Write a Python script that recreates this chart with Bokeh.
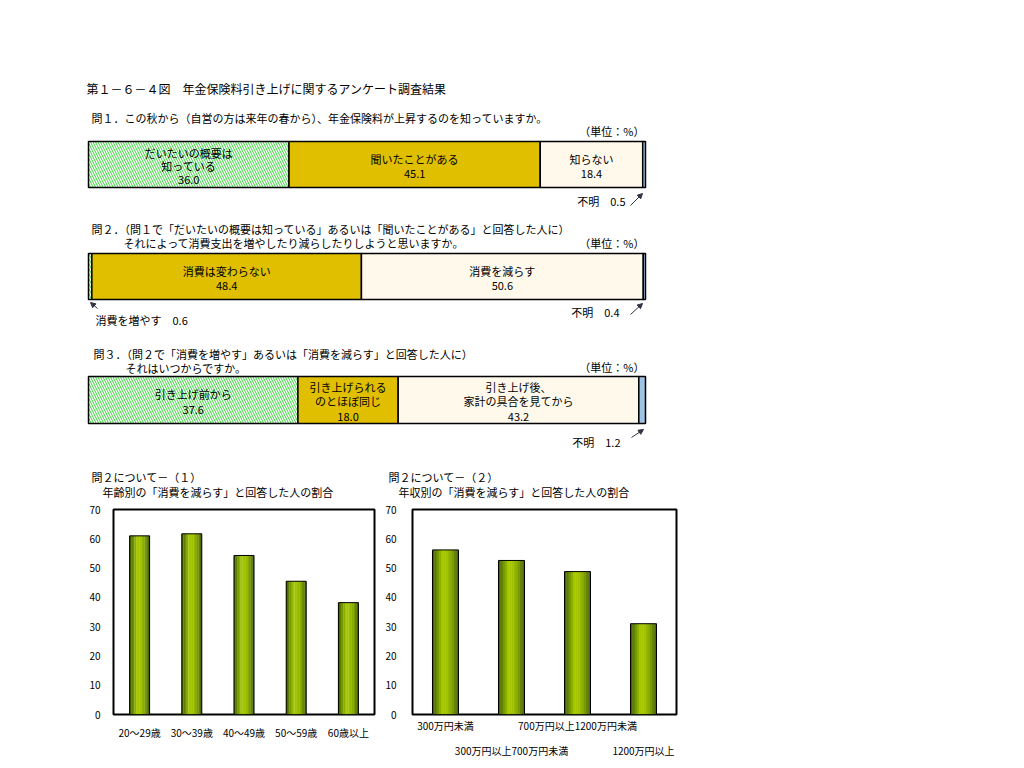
import numpy as np
from bokeh.plotting import figure
from bokeh.models import (Range1d, ColumnDataSource, Arrow, NormalHead, FixedTicker,
                          LinearAxis, CustomJSTickFormatter)
from bokeh.layouts import column, row
from bokeh.core.properties import value
from bokeh.embed import file_html
from bokeh.resources import INLINE

FONT = "Noto Sans CJK JP"

# ---------------- data ----------------
TITLE = "第１－６－４図　年金保険料引き上げに関するアンケート調査結果"
UNIT = "（単位：%）"

Q1_TEXT = ["問１．この秋から（自営の方は来年の春から）、年金保険料が上昇するのを知っていますか。"]
Q1_LABELS = ["だいたいの概要は\n知っている", "聞いたことがある", "知らない", "不明"]
Q1_VALUES = [36.0, 45.1, 18.4, 0.5]

Q2_TEXT = ["問２．（問１で「だいたいの概要は知っている」あるいは「聞いたことがある」と回答した人に）",
           "それによって消費支出を増やしたり減らしたりしようと思いますか。"]
Q2_LABELS = ["消費を増やす", "消費は変わらない", "消費を減らす", "不明"]
Q2_VALUES = [0.6, 48.4, 50.6, 0.4]

Q3_TEXT = ["問３．（問２で「消費を増やす」あるいは「消費を減らす」と回答した人に）",
           "それはいつからですか。"]
Q3_LABELS = ["引き上げ前から", "引き上げられる\nのとほぼ同じ", "引き上げ後、\n家計の具合を見てから", "不明"]
Q3_VALUES = [37.6, 18.0, 43.2, 1.2]

AGE_TITLE = ["問２について－（１）", "年齢別の「消費を減らす」と回答した人の割合"]
AGE_CATS = ["20～29歳", "30～39歳", "40～49歳", "50～59歳", "60歳以上"]
AGE_VALUES = [61.0, 61.7, 54.3, 45.5, 38.2]

INC_TITLE = ["問２について－（２）", "年収別の「消費を減らす」と回答した人の割合"]
INC_CATS = ["300万円未満", "300万円以上700万円未満", "700万円以上1200万円未満", "1200万円以上"]
INC_VALUES = [56.2, 52.6, 48.8, 31.0]

Y_TICKS = [0, 10, 20, 30, 40, 50, 60, 70]

# ---------------- styles ----------------
SEG_FILL = ["white", "#DFBF00", "#FFF9EC", "#9DC3E6"]
SEG_HATCH = ["\\", " ", " ", " "]
HATCH_COLOR = "#3AD03A"

# page-pixel layout of top section (page origin at 0,0)
X0, X1 = 88.0, 645.0
S = (X1 - X0) / 100.0


def dx(px):
    return (px - X0) / S


top = figure(width=708, height=500, x_range=Range1d(dx(0), dx(708)), y_range=Range1d(500, 0),
             output_backend="svg", toolbar_location=None, min_border=0,
             x_axis_type=None, y_axis_type=None, outline_line_color=None)
top.background_fill_color = "white"
top.border_fill_color = "white"


def txt(x, y, t, size="11px", align="left", baseline="middle", lh=1.0):
    top.text(x=[x], y=[y], text=[t], text_font=value(FONT), text_font_size=size,
             text_align=align, text_baseline=baseline, text_color="black",
             text_line_height=lh)


def arrow(x0, y0, x1, y1):
    top.add_layout(Arrow(end=NormalHead(size=5, fill_color="#333344", line_color="#333344"),
                         x_start=dx(x0), y_start=y0, x_end=dx(x1), y_end=y1,
                         line_color="#333344", line_width=1))


txt(dx(86), 88, TITLE, size="12px")

blocks = [
    dict(text=Q1_TEXT, lines=[(91, 117)], unit_y=130, top=141, bot=187,
         labels=Q1_LABELS, values=Q1_VALUES, inlh=0.84),
    dict(text=Q2_TEXT, lines=[(91, 228), (123, 242)], unit_y=242, top=253, bot=299,
         labels=Q2_LABELS, values=Q2_VALUES, inlh=0.84),
    dict(text=Q3_TEXT, lines=[(93, 353), (125, 367)], unit_y=366, top=376, bot=423,
         labels=Q3_LABELS, values=Q3_VALUES, inlh=0.9),
]

for b in blocks:
    for (lx, ly), t in zip(b["lines"], b["text"]):
        txt(dx(lx), ly, t)
    txt(dx(644), b["unit_y"], UNIT, align="right")
    vals = np.array(b["values"])
    right = np.cumsum(vals)
    left = right - vals
    yc = (b["top"] + b["bot"]) / 2.0
    h = b["bot"] - b["top"]
    src = ColumnDataSource(dict(y=[yc] * len(vals), left=left, right=right,
                                fill=SEG_FILL, hatch=SEG_HATCH))
    top.hbar(y="y", left="left", right="right", height=h, source=src,
             fill_color="fill", hatch_pattern="hatch", hatch_color=HATCH_COLOR,
             hatch_scale=5, hatch_weight=1, line_color="black", line_width=1.5)
    for lab, v, l, r in zip(b["labels"], vals, left, right):
        if v >= 5:
            txt((l + r) / 2, yc + 1.5, f"{lab}\n{v:.1f}", align="center", lh=b["inlh"])

# small segments: external labels with arrows
txt(dx(625), 200, f"{Q1_LABELS[3]}　{Q1_VALUES[3]:.1f}", align="right")
arrow(630, 205, 642, 193)

txt(dx(95), 319, f"{Q2_LABELS[0]}　{Q2_VALUES[0]:.1f}")
arrow(97, 308, 90, 302)
txt(dx(619), 311, f"{Q2_LABELS[3]}　{Q2_VALUES[3]:.1f}", align="right")
arrow(630, 314, 642, 303)

txt(dx(620), 441, f"{Q3_LABELS[3]}　{Q3_VALUES[3]:.1f}", align="right")
arrow(631, 437, 643, 429)

# bottom chart titles
txt(dx(91), 476, AGE_TITLE[0])
txt(dx(102), 491, AGE_TITLE[1])
txt(dx(388), 476, INC_TITLE[0])
txt(dx(398), 491, INC_TITLE[1])

# ---------------- bottom bar charts ----------------
GRAD = [(0.0, (0x3C, 0x56, 0x00)), (0.18, (0x6C, 0x8E, 0x00)), (0.38, (0xA6, 0xC8, 0x00)),
        (0.55, (0xA0, 0xC2, 0x00)), (0.75, (0x84, 0xA6, 0x00)), (0.92, (0x5A, 0x78, 0x00)),
        (1.0, (0x40, 0x5A, 0x00))]


def grad_color(t):
    for (t0, c0), (t1, c1) in zip(GRAD[:-1], GRAD[1:]):
        if t0 <= t <= t1:
            f = (t - t0) / (t1 - t0)
            c = [int(round(a + (bb - a) * f)) for a, bb in zip(c0, c1)]
            return "#%02x%02x%02x" % tuple(c)
    return "#405a00"


def style_axis(ax, standoff):
    ax.axis_line_color = None
    ax.major_tick_line_color = None
    ax.minor_tick_line_color = None
    ax.major_tick_out = 0
    ax.major_tick_in = 0
    ax.minor_tick_out = 0
    ax.minor_tick_in = 0
    ax.major_label_standoff = standoff
    ax.major_label_text_font = FONT
    ax.major_label_text_font_size = "10px"
    ax.major_label_text_color = "black"


def bar_chart(cats, vals, width, bl, br, bt, bb, bar_w, standoff_y, rows):
    n = len(cats)
    p = figure(width=width, height=bt + 209 + bb, x_range=Range1d(0, n),
               y_range=Range1d(0, 70), output_backend="svg", toolbar_location=None,
               min_border_left=bl, min_border_right=br, min_border_top=bt,
               min_border_bottom=bb, x_axis_type=None)
    p.background_fill_color = "white"
    p.border_fill_color = "white"
    p.outline_line_color = "black"
    p.outline_line_width = 2
    p.grid.visible = False
    xc = np.arange(n) + 0.5          # category centres
    ns = 12
    sw = bar_w / ns
    for k in range(ns):
        off = -bar_w / 2 + (k + 0.5) * sw
        p.vbar(x=xc + off, top=vals, width=sw * 1.15,
               fill_color=grad_color((k + 0.5) / ns), line_color=None)
    p.vbar(x=xc, top=vals, width=bar_w, fill_color=None, line_color="black", line_width=1)

    ya = p.yaxis[0]
    ya.ticker = FixedTicker(ticks=Y_TICKS)
    style_axis(ya, standoff_y)

    # category labels (one row, or alternating between two rows)
    fmt_code = "return labels[Math.floor(tick)];"
    for parity, standoff in rows:
        ticks = [float(c) for i, c in enumerate(xc) if parity is None or i % 2 == parity]
        ax = LinearAxis(ticker=FixedTicker(ticks=ticks),
                        formatter=CustomJSTickFormatter(args=dict(labels=list(cats)),
                                                        code=fmt_code))
        style_axis(ax, standoff)
        p.add_layout(ax, "below")
    return p


pa = bar_chart(AGE_CATS, AGE_VALUES, 380, 113, 6, 9, 42, 0.383, 13, [(None, 10)])
pb = bar_chart(INC_CATS, INC_VALUES, 316, 32, 20, 8, 43, 0.394, 16, [(0, 3), (1, 7)])

layout = column(top, row(pa, pb, spacing=0), spacing=0)
open("out.html", "w").write(file_html(layout, INLINE))
